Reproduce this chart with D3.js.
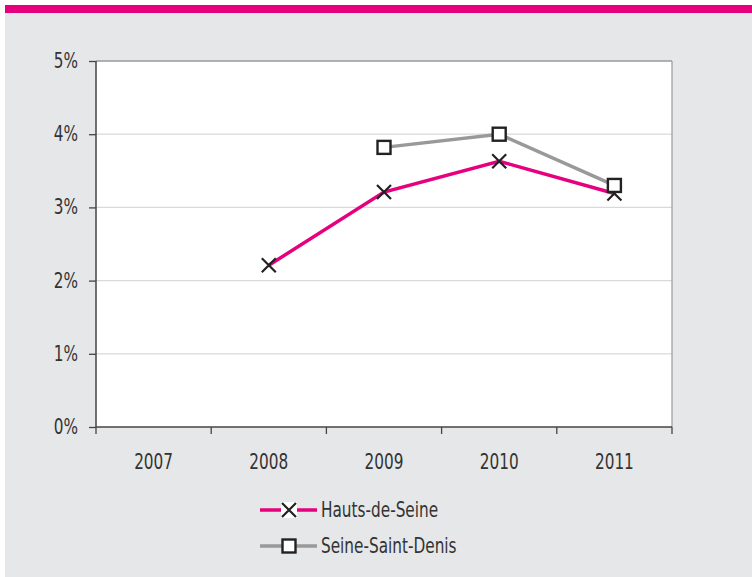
<!DOCTYPE html>
<html>
<head>
    <meta charset="utf-8">
    <script type="text/javascript" src="https://cdn.jsdelivr.net/npm/d3@7"></script>
    <style>
    body { margin:0; background:#fff; }
    text { font-family:"Liberation Sans Narrow","DejaVu Sans",sans-serif; font-stretch:condensed; fill:#333; }
    </style>
</head>
<body>
    <script>
        // data
        var years = ["2007", "2008", "2009", "2010", "2011"];
        var hautsDeSeine = [null, 2.21, 3.21, 3.63, 3.19];
        var seineSaintDenis = [null, null, 3.82, 4.0, 3.30];
        var yTicks = [0, 1, 2, 3, 4, 5];
        var seriesNames = ["Hauts-de-Seine", "Seine-Saint-Denis"];

        var width = 752, height = 577;
        var svg = d3.select('body').append('svg')
            .attr('width', width)
            .attr('height', height);

        // background and pink band on top
        svg.append('rect').attr('x', 5).attr('y', 5).attr('width', width - 5).attr('height', height - 5)
            .style('fill', '#e6e7e9');
        svg.append('rect').attr('x', 5).attr('y', 5).attr('width', width - 5).attr('height', 8)
            .style('fill', '#e6007e');

        var pLeft = 96, pRight = 672, pTop = 61, pBottom = 427;
        var stretch = 1.2; // the original font is taller and narrower

        var x = d3.scaleBand().domain(years).range([pLeft, pRight]);
        var y = d3.scaleLinear().domain([0, 5]).range([pBottom, pTop]);

        // text stretched vertically around its baseline
        function tallText(g, tx, ty, str, anchor){
            return g.append('text')
                .attr('transform', 'translate(' + tx + ',' + ty + ') scale(1,' + stretch + ')')
                .attr('text-anchor', anchor)
                .style('font-size', '17px')
                .text(str);
        }

        // plot area
        svg.append('rect').attr('x', pLeft).attr('y', pTop)
            .attr('width', pRight - pLeft).attr('height', pBottom - pTop)
            .style('fill', '#fff');

        // grid lines
        svg.selectAll('line.grid').data(yTicks.slice(1, 5)).enter().append('line')
            .attr('x1', pLeft).attr('x2', pRight)
            .attr('y1', function(d){ return y(d); }).attr('y2', function(d){ return y(d); })
            .style('stroke', '#d9d9d9').style('stroke-width', 1.3);

        // top and right border
        svg.append('line').attr('x1', pLeft).attr('x2', pRight).attr('y1', pTop).attr('y2', pTop)
            .style('stroke', '#9a9a9a').style('stroke-width', 1.5);
        svg.append('line').attr('x1', pRight).attr('x2', pRight).attr('y1', pTop).attr('y2', pBottom)
            .style('stroke', '#9a9a9a').style('stroke-width', 1.2);

        // y axis
        var yAxis = svg.append('g').attr('transform', 'translate(' + pLeft + ',0)')
            .call(d3.axisLeft(y).tickValues(yTicks).tickFormat(function(d){ return d + '%'; })
                .tickSize(7).tickPadding(11));
        yAxis.attr('font-family', null).attr('font-size', null);
        yAxis.selectAll('text').style('font-size', '17px').style('fill', '#333')
            .attr('transform', 'scale(1,' + stretch + ')');
        yAxis.selectAll('line').style('stroke', '#444').style('stroke-width', 1.3);
        yAxis.select('.domain').attr('d', 'M0,' + pTop + 'V' + pBottom).style('stroke', '#444').style('stroke-width', 1.5);

        // x axis: ticks on band edges
        var xg = svg.append('g');
        xg.append('line').attr('x1', pLeft).attr('x2', pRight).attr('y1', pBottom).attr('y2', pBottom)
            .style('stroke', '#444').style('stroke-width', 1.5);
        var edges = years.map(function(d){ return x(d); }).concat([pRight]);
        xg.selectAll('line.tick').data(edges).enter().append('line')
            .attr('x1', function(d){ return d; }).attr('x2', function(d){ return d; })
            .attr('y1', pBottom).attr('y2', pBottom + 7)
            .style('stroke', '#444').style('stroke-width', 1.3);
        years.forEach(function(d){
            tallText(xg, x(d) + x.bandwidth() / 2, 469, d, 'middle');
        });

        function cx(i){ return x(years[i]) + x.bandwidth() / 2; }

        var line = d3.line()
            .defined(function(d){ return d != null; })
            .x(function(d, i){ return cx(i); })
            .y(function(d){ return y(d); });

        // lines
        svg.append('path').datum(seineSaintDenis).attr('d', line)
            .style('fill', 'none').style('stroke', '#999999').style('stroke-width', 3.5);
        svg.append('path').datum(hautsDeSeine).attr('d', line)
            .style('fill', 'none').style('stroke', '#e6007e').style('stroke-width', 3.5);

        function crossMark(g, px, py){
            g.append('path')
                .attr('d', 'M' + (px - 7) + ',' + (py - 7) + 'L' + (px + 7) + ',' + (py + 7) +
                    'M' + (px - 7) + ',' + (py + 7) + 'L' + (px + 7) + ',' + (py - 7))
                .style('stroke', '#222').style('stroke-width', 2.2).style('fill', 'none');
        }
        function squareMark(g, px, py){
            g.append('rect').attr('x', px - 6.5).attr('y', py - 6.5).attr('width', 13).attr('height', 13)
                .style('fill', '#fff').style('stroke', '#222').style('stroke-width', 2.4);
        }

        var marks = svg.append('g');
        hautsDeSeine.forEach(function(d, i){ if (d != null) crossMark(marks, cx(i), y(d)); });
        seineSaintDenis.forEach(function(d, i){ if (d != null) squareMark(marks, cx(i), y(d)); });

        // legend
        var legend = svg.append('g');
        var colors = ['#e6007e', '#999999'];
        seriesNames.forEach(function(name, i){
            var ly = 510 + i * 36;
            legend.append('line').attr('x1', 260).attr('x2', 317).attr('y1', ly).attr('y2', ly)
                .style('stroke', colors[i]).style('stroke-width', 3.5);
            if (i == 0) {
                legend.append('rect').attr('x', 281).attr('y', ly - 8).attr('width', 16).attr('height', 16).style('fill', '#fff');
                crossMark(legend, 289, ly);
            } else {
                squareMark(legend, 289, ly);
            }
            tallText(legend, 321, ly + 7, name, 'start');
        });
    </script>
</body>
</html>
